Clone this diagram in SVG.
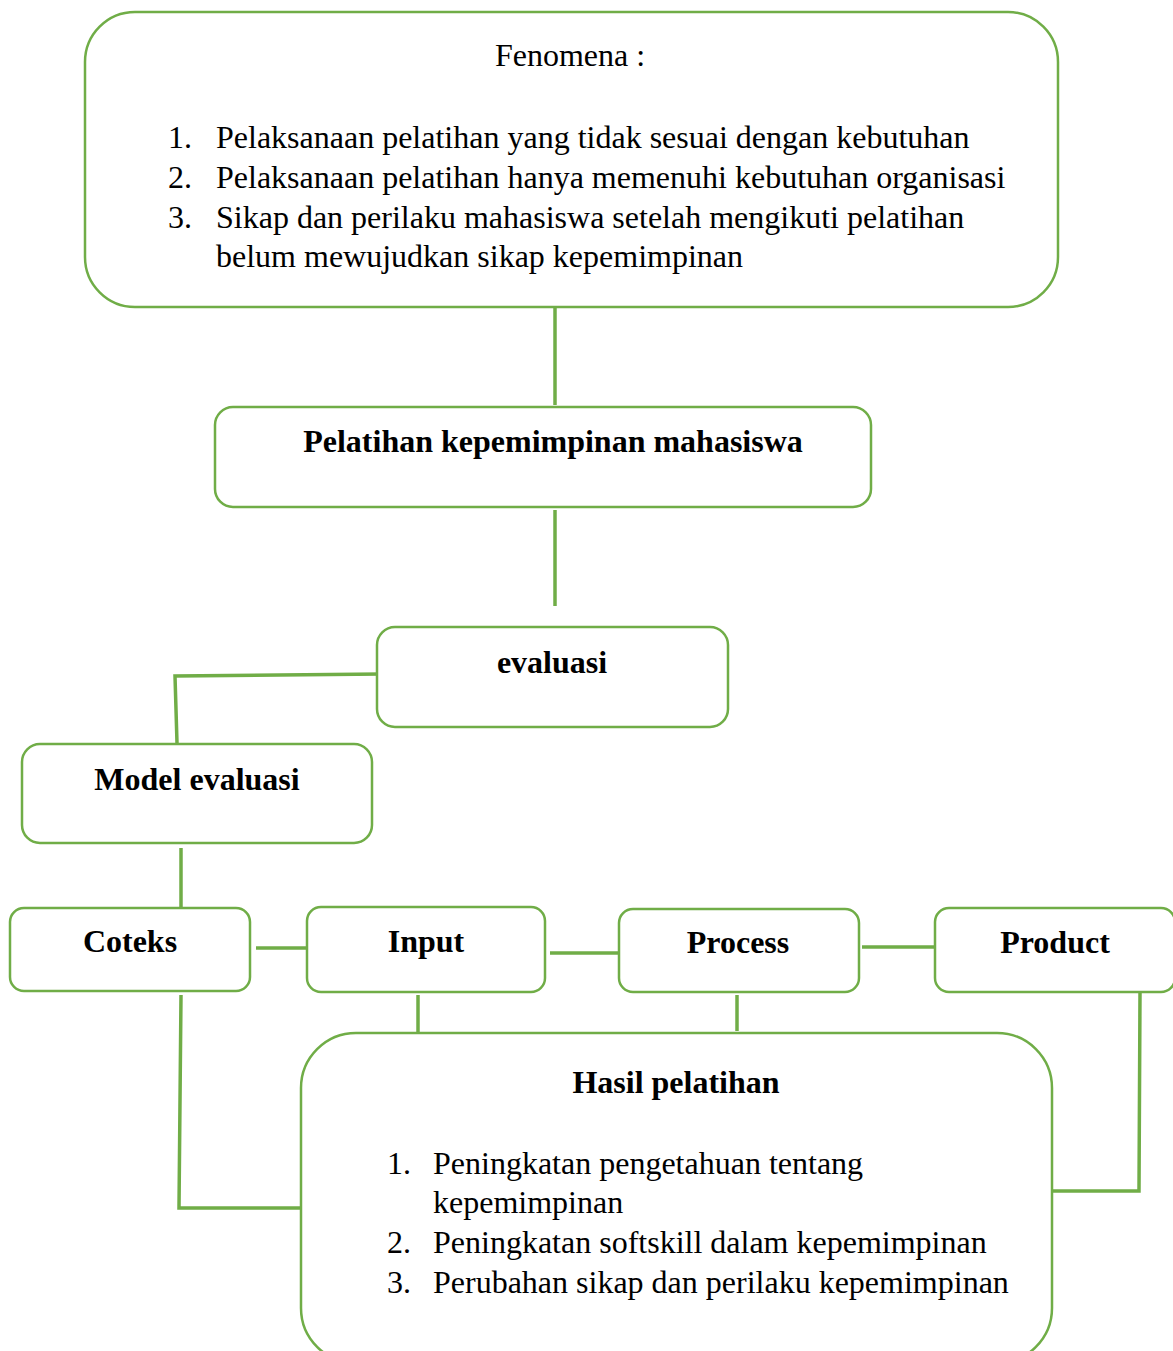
<svg xmlns="http://www.w3.org/2000/svg" width="1173" height="1351" viewBox="0 0 1173 1351">
<style>
.box{fill:#fff;stroke:#70AD47;stroke-width:2.5}
.con{fill:none;stroke:#70AD47;stroke-width:3.5}
.t{font-family:"Liberation Serif","Times New Roman",serif;font-size:32px;fill:#000}
.b{font-weight:bold;text-anchor:middle}
</style>
<rect width="1173" height="1351" fill="#fff"/>
<g id="connectors">
<path class="con" d="M555 308V405"/>
<path class="con" d="M555 510V606"/>
<path class="con" d="M382 674L175 676L177 743"/>
<path class="con" d="M181 848V910"/>
<path class="con" d="M256 948H307"/>
<path class="con" d="M550 953H620"/>
<path class="con" d="M862 947H938"/>
<path class="con" d="M181 995L179 1208H306"/>
<path class="con" d="M418 995V1033"/>
<path class="con" d="M737 995V1031"/>
<path class="con" d="M1140 993L1139 1191H1050"/>
</g>
<g id="fenomena">
<rect class="box" x="85" y="12" width="973" height="295" rx="50"/>
<text class="t" x="570" y="66" text-anchor="middle">Fenomena :</text>
<text class="t" x="168" y="148">1.</text><text class="t" x="216" y="148">Pelaksanaan pelatihan yang tidak sesuai dengan kebutuhan</text>
<text class="t" x="168" y="188">2.</text><text class="t" x="216" y="188">Pelaksanaan pelatihan hanya memenuhi kebutuhan organisasi</text>
<text class="t" x="168" y="228">3.</text><text class="t" x="216" y="228">Sikap dan perilaku mahasiswa setelah mengikuti pelatihan</text>
<text class="t" x="216" y="267">belum mewujudkan sikap kepemimpinan</text>
</g>
<g id="pelatihan">
<rect class="box" x="215" y="407" width="656" height="100" rx="18"/>
<text class="t b" x="553" y="452">Pelatihan kepemimpinan mahasiswa</text>
</g>
<g id="evaluasi">
<rect class="box" x="377" y="627" width="351" height="100" rx="18"/>
<text class="t b" x="552" y="673">evaluasi</text>
</g>
<g id="model">
<rect class="box" x="22" y="744" width="350" height="99" rx="18"/>
<text class="t b" x="197" y="790">Model evaluasi</text>
</g>
<g id="coteks">
<rect class="box" x="10" y="908" width="240" height="83" rx="14"/>
<text class="t b" x="130" y="952">Coteks</text>
</g>
<g id="input">
<rect class="box" x="307" y="907" width="238" height="85" rx="14"/>
<text class="t b" x="426" y="952">Input</text>
</g>
<g id="process">
<rect class="box" x="619" y="909" width="240" height="83" rx="14"/>
<text class="t b" x="738" y="953">Process</text>
</g>
<g id="product">
<rect class="box" x="935" y="908" width="240" height="84" rx="14"/>
<text class="t b" x="1055" y="953">Product</text>
</g>
<g id="hasil">
<rect class="box" x="301" y="1033" width="751" height="330" rx="55"/>
<text class="t b" x="676" y="1093">Hasil pelatihan</text>
<text class="t" x="387" y="1174">1.</text><text class="t" x="433" y="1174">Peningkatan pengetahuan tentang</text>
<text class="t" x="433" y="1213">kepemimpinan</text>
<text class="t" x="387" y="1253">2.</text><text class="t" x="433" y="1253">Peningkatan softskill dalam kepemimpinan</text>
<text class="t" x="387" y="1293">3.</text><text class="t" x="433" y="1293">Perubahan sikap dan perilaku kepemimpinan</text>
</g>
</svg>
